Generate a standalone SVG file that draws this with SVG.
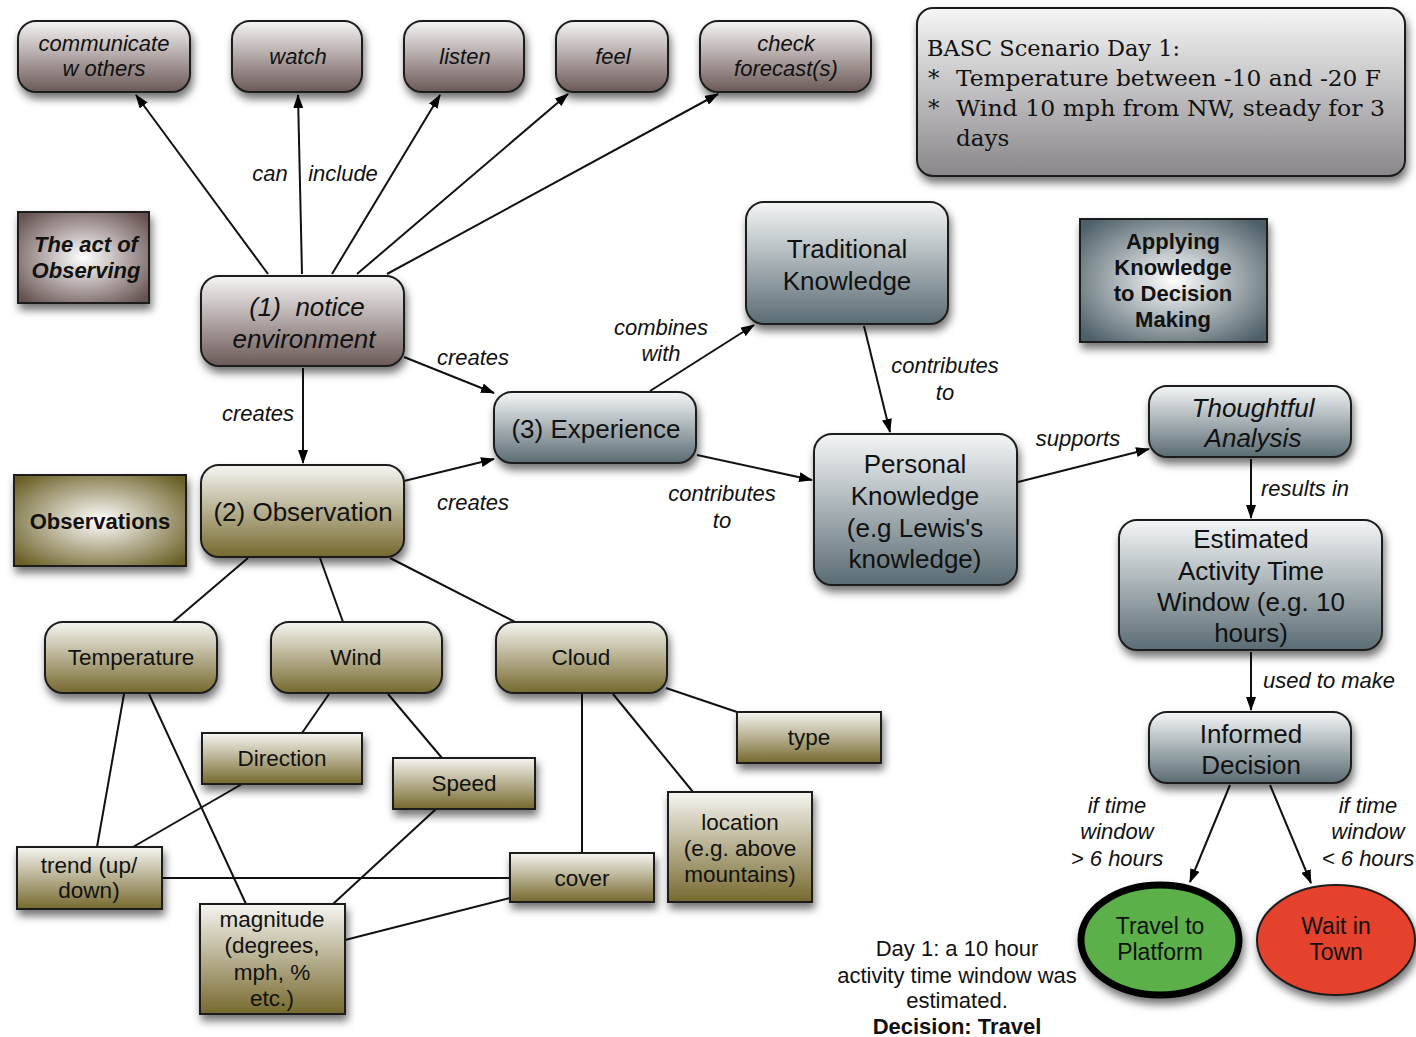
<svg xmlns="http://www.w3.org/2000/svg" width="1416" height="1037" viewBox="0 0 1416 1037">
<defs>
<linearGradient id="gBrown" x1="0" y1="0" x2="0" y2="1"><stop offset="0" stop-color="#f6f4f4"/><stop offset="1" stop-color="#6b5957"/></linearGradient>
<linearGradient id="gBlue" x1="0" y1="0" x2="0" y2="1"><stop offset="0" stop-color="#f4f6f7"/><stop offset="1" stop-color="#5a6c73"/></linearGradient>
<linearGradient id="gOlive" x1="0" y1="0" x2="0" y2="1"><stop offset="0" stop-color="#f6f5f1"/><stop offset="1" stop-color="#76692e"/></linearGradient>
<linearGradient id="gGray" x1="0" y1="0" x2="0" y2="1"><stop offset="0" stop-color="#f6f6f6"/><stop offset="1" stop-color="#8a878b"/></linearGradient>
<radialGradient id="rBrown" cx="0.5" cy="0.5" r="0.65"><stop offset="0" stop-color="#ffffff"/><stop offset="1" stop-color="#65514f"/></radialGradient>
<radialGradient id="rBlue" cx="0.5" cy="0.5" r="0.65"><stop offset="0" stop-color="#ffffff"/><stop offset="1" stop-color="#4d5f67"/></radialGradient>
<radialGradient id="rOlive" cx="0.5" cy="0.5" r="0.65"><stop offset="0" stop-color="#ffffff"/><stop offset="1" stop-color="#6a5f25"/></radialGradient>
<filter id="sh" x="-20%" y="-20%" width="140%" height="150%"><feDropShadow dx="2" dy="6" stdDeviation="4" flood-color="#000" flood-opacity="0.55"/></filter>
<marker id="ah" viewBox="0 0 14 10" refX="13" refY="5" markerWidth="14" markerHeight="10" markerUnits="userSpaceOnUse" orient="auto"><path d="M0,0 L14,5 L0,10 z" fill="#000"/></marker>
<style>
.n{stroke:#1e1e1e;stroke-width:2;filter:url(#sh)}
.br{fill:url(#gBrown)}.bl{fill:url(#gBlue)}.ol{fill:url(#gOlive)}.gr{fill:url(#gGray)}
.t{font-family:"Liberation Sans",Arial,sans-serif;fill:#111;text-anchor:middle}
.it{font-style:italic}
.bd{font-weight:bold}
.lab{font-family:"Liberation Sans",Arial,sans-serif;font-style:italic;font-size:22px;fill:#111;text-anchor:middle}
.c{stroke:#111;stroke-width:2;fill:none}
.a{marker-end:url(#ah)}
</style>
</defs>

<g id="connectors">
<line class="c a" x1="268" y1="274" x2="136" y2="95"/>
<line class="c a" x1="302" y1="274" x2="298" y2="95"/>
<line class="c a" x1="332" y1="274" x2="440" y2="95"/>
<line class="c a" x1="357" y1="274" x2="568" y2="94"/>
<line class="c a" x1="387" y1="274" x2="718" y2="94"/>
<line class="c a" x1="303" y1="368" x2="303" y2="463"/>
<line class="c a" x1="404" y1="357" x2="494" y2="393"/>
<line class="c a" x1="404" y1="481" x2="494" y2="459"/>
<line class="c a" x1="650" y1="391" x2="754" y2="325"/>
<line class="c a" x1="864" y1="326" x2="890" y2="432"/>
<line class="c a" x1="697" y1="455" x2="812" y2="480"/>
<line class="c a" x1="1018" y1="482" x2="1149" y2="449"/>
<line class="c a" x1="1251" y1="459" x2="1251" y2="518"/>
<line class="c a" x1="1251" y1="652" x2="1251" y2="710"/>
<line class="c a" x1="1230" y1="785" x2="1190" y2="882"/>
<line class="c a" x1="1270" y1="785" x2="1311" y2="883"/>
<line class="c" x1="248" y1="558" x2="173" y2="622"/>
<line class="c" x1="320" y1="558" x2="343" y2="622"/>
<line class="c" x1="390" y1="558" x2="515" y2="622"/>
<line class="c" x1="124" y1="694" x2="97" y2="847"/>
<line class="c" x1="149" y1="694" x2="246" y2="904"/>
<line class="c" x1="329" y1="694" x2="302" y2="733"/>
<line class="c" x1="388" y1="694" x2="442" y2="758"/>
<line class="c" x1="242" y1="784" x2="133" y2="847"/>
<line class="c" x1="436" y1="809" x2="333" y2="904"/>
<line class="c" x1="582" y1="694" x2="582" y2="853"/>
<line class="c" x1="613" y1="694" x2="693" y2="792"/>
<line class="c" x1="666" y1="688" x2="737" y2="712"/>
<line class="c" x1="162" y1="878" x2="510" y2="878"/>
<line class="c" x1="345" y1="940" x2="510" y2="898"/>
<text class="lab" x="270" y="181">can</text>
<text class="lab" x="343" y="181">include</text>
<text class="lab" x="258" y="421">creates</text>
<text class="lab" x="473" y="365">creates</text>
<text class="lab" x="473" y="510">creates</text>
<text class="lab" x="661" y="335">combines</text>
<text class="lab" x="661" y="361">with</text>
<text class="lab" x="945" y="373">contributes</text>
<text class="lab" x="945" y="400">to</text>
<text class="lab" x="722" y="501">contributes</text>
<text class="lab" x="722" y="528">to</text>
<text class="lab" x="1078" y="446">supports</text>
<text class="lab" x="1261" y="496" style="text-anchor:start">results in</text>
<text class="lab" x="1263" y="688" style="text-anchor:start">used to make</text>
<text class="lab" x="1117" y="813">if time</text>
<text class="lab" x="1117" y="839">window</text>
<text class="lab" x="1117" y="866">&gt; 6 hours</text>
<text class="lab" x="1368" y="813">if time</text>
<text class="lab" x="1368" y="839">window</text>
<text class="lab" x="1368" y="866">&lt; 6 hours</text>
</g>

<g id="communicate"><rect class="n br" x="18" y="21" width="172" height="71" rx="18"/><text class="t it" font-size="22" x="104" y="51">communicate</text><text class="t it" font-size="22" x="104" y="76">w others</text></g>
<g id="watch"><rect class="n br" x="232" y="21" width="130" height="71" rx="18"/><text class="t it" font-size="22" x="298" y="64">watch</text></g>
<g id="listen"><rect class="n br" x="404" y="21" width="120" height="71" rx="18"/><text class="t it" font-size="22" x="465" y="64">listen</text></g>
<g id="feel"><rect class="n br" x="556" y="21" width="112" height="71" rx="18"/><text class="t it" font-size="22" x="613" y="64">feel</text></g>
<g id="check"><rect class="n br" x="700" y="21" width="171" height="71" rx="18"/><text class="t it" font-size="22" x="786" y="51">check</text><text class="t it" font-size="22" x="786" y="76">forecast(s)</text></g>

<g id="basc"><rect class="n gr" x="917" y="8" width="488" height="168" rx="16"/>
<g font-family="'DejaVu Serif','Liberation Serif',serif" font-size="23" fill="#111">
<text x="927" y="56" textLength="253" lengthAdjust="spacingAndGlyphs">BASC Scenario Day 1:</text>
<text x="928" y="86">*</text><text x="956" y="86" textLength="425" lengthAdjust="spacingAndGlyphs">Temperature between -10 and -20 F</text>
<text x="928" y="116">*</text><text x="956" y="116" textLength="429" lengthAdjust="spacingAndGlyphs">Wind 10 mph from NW, steady for 3</text>
<text x="956" y="146">days</text>
</g></g>

<g id="act"><rect class="n" fill="url(#rBrown)" x="18" y="212" width="131" height="91"/><text class="t it bd" font-size="22" x="86" y="252">The act of</text><text class="t it bd" font-size="22" x="86" y="278">Observing</text></g>

<g id="notice"><rect class="n br" x="201" y="276" width="203" height="90" rx="18"/><text class="t it" font-size="26" x="307" y="316">(1)&#160; notice</text><text class="t it" font-size="26" x="304" y="348">environment</text></g>

<g id="traditional"><rect class="n bl" x="746" y="202" width="202" height="122" rx="18"/><text class="t" font-size="26" x="847" y="258">Traditional</text><text class="t" font-size="26" x="847" y="290">Knowledge</text></g>

<g id="applying"><rect class="n" fill="url(#rBlue)" x="1080" y="219" width="187" height="123"/><text class="t bd" font-size="22" x="1173" y="249">Applying</text><text class="t bd" font-size="22" x="1173" y="275">Knowledge</text><text class="t bd" font-size="22" x="1173" y="301">to Decision</text><text class="t bd" font-size="22" x="1173" y="327">Making</text></g>

<g id="experience"><rect class="n bl" x="494" y="392" width="202" height="71" rx="18"/><text class="t" font-size="26" x="596" y="438">(3) Experience</text></g>

<g id="personal"><rect class="n bl" x="814" y="434" width="203" height="151" rx="18"/><text class="t" font-size="26" x="915" y="473">Personal</text><text class="t" font-size="26" x="915" y="505">Knowledge</text><text class="t" font-size="26" x="915" y="537">(e.g Lewis's</text><text class="t" font-size="26" x="915" y="568">knowledge)</text></g>

<g id="thoughtful"><rect class="n bl" x="1149" y="386" width="202" height="71" rx="18"/><text class="t it" font-size="26" x="1253" y="417">Thoughtful</text><text class="t it" font-size="26" x="1253" y="447">Analysis</text></g>

<g id="estimated"><rect class="n bl" x="1119" y="520" width="263" height="130" rx="18"/><text class="t" font-size="26" x="1251" y="548">Estimated</text><text class="t" font-size="26" x="1251" y="580">Activity Time</text><text class="t" font-size="26" x="1251" y="611">Window (e.g. 10</text><text class="t" font-size="26" x="1251" y="642">hours)</text></g>

<g id="informed"><rect class="n bl" x="1149" y="712" width="202" height="71" rx="18"/><text class="t" font-size="26" x="1251" y="743">Informed</text><text class="t" font-size="26" x="1251" y="774">Decision</text></g>

<g id="travel"><ellipse cx="1160" cy="940" rx="79" ry="55" fill="#5cb048" stroke="#000" stroke-width="7" filter="url(#sh)"/><text class="t" font-size="23" x="1160" y="934">Travel to</text><text class="t" font-size="23" x="1160" y="960">Platform</text></g>

<g id="wait"><ellipse cx="1336" cy="940" rx="79" ry="55" fill="#e5432f" stroke="#1e1e1e" stroke-width="2" filter="url(#sh)"/><text class="t" font-size="23" x="1336" y="934">Wait in</text><text class="t" font-size="23" x="1336" y="960">Town</text></g>

<g id="observations"><rect class="n" fill="url(#rOlive)" x="14" y="475" width="172" height="91"/><text class="t bd" font-size="22" x="100" y="529">Observations</text></g>

<g id="observation"><rect class="n ol" x="201" y="465" width="203" height="92" rx="18"/><text class="t" font-size="26" x="303" y="521">(2) Observation</text></g>

<g id="temperature"><rect class="n ol" x="45" y="622" width="172" height="71" rx="18"/><text class="t" font-size="22.5" x="131" y="665">Temperature</text></g>
<g id="wind"><rect class="n ol" x="271" y="622" width="171" height="71" rx="18"/><text class="t" font-size="22.5" x="356" y="665">Wind</text></g>
<g id="cloud"><rect class="n ol" x="496" y="622" width="171" height="71" rx="18"/><text class="t" font-size="22.5" x="581" y="665">Cloud</text></g>

<g id="type"><rect class="n ol" x="737" y="712" width="144" height="51"/><text class="t" font-size="22.5" x="809" y="745">type</text></g>
<g id="direction"><rect class="n ol" x="202" y="733" width="160" height="51"/><text class="t" font-size="22.5" x="282" y="766">Direction</text></g>
<g id="speed"><rect class="n ol" x="393" y="758" width="142" height="51"/><text class="t" font-size="22.5" x="464" y="791">Speed</text></g>
<g id="location"><rect class="n ol" x="668" y="792" width="144" height="110"/><text class="t" font-size="22.5" x="740" y="830">location</text><text class="t" font-size="22.5" x="740" y="856">(e.g. above</text><text class="t" font-size="22.5" x="740" y="882">mountains)</text></g>
<g id="trend"><rect class="n ol" x="17" y="847" width="145" height="62"/><text class="t" font-size="22.5" x="89" y="873">trend (up/</text><text class="t" font-size="22.5" x="89" y="898">down)</text></g>
<g id="cover"><rect class="n ol" x="510" y="853" width="144" height="49"/><text class="t" font-size="22.5" x="582" y="886">cover</text></g>
<g id="magnitude"><rect class="n ol" x="200" y="904" width="145" height="110"/><text class="t" font-size="22.5" x="272" y="927">magnitude</text><text class="t" font-size="22.5" x="272" y="953">(degrees,</text><text class="t" font-size="22.5" x="272" y="980">mph, %</text><text class="t" font-size="22.5" x="272" y="1006">etc.)</text></g>

<g id="note"><text class="t" font-size="22" x="957" y="956">Day 1: a 10 hour</text><text class="t" font-size="22" x="957" y="983">activity time window was</text><text class="t" font-size="22" x="957" y="1008">estimated.</text><text class="t bd" font-size="22" x="957" y="1034">Decision: Travel</text></g>
</svg>
